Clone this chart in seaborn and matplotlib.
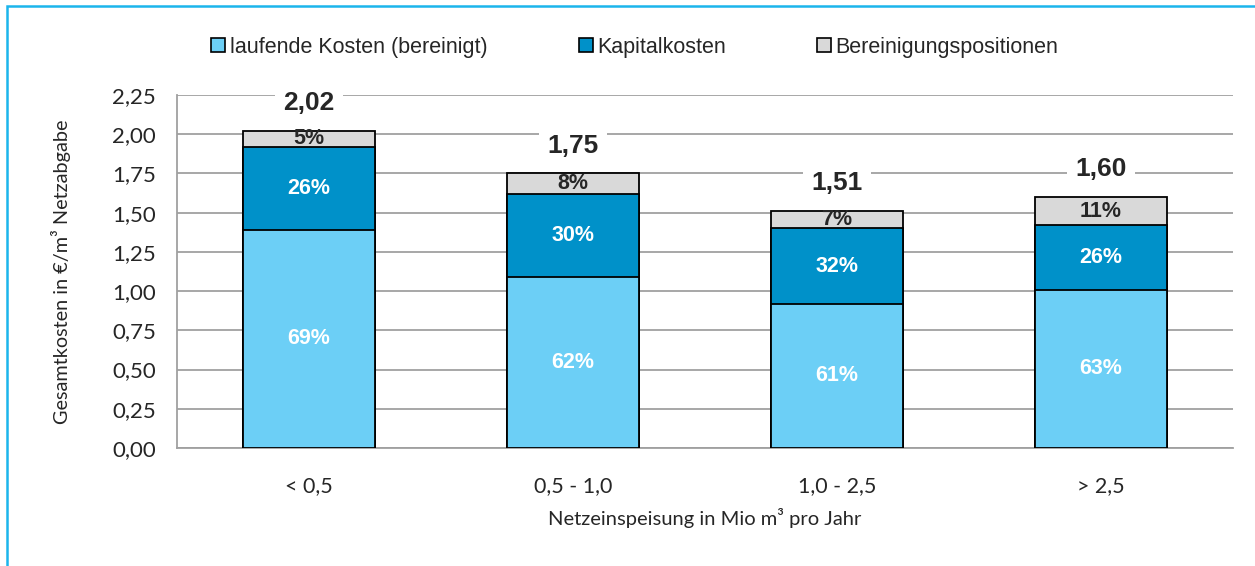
# Stacked bar chart: Gesamtkosten je Netzeinspeisungsklasse
import numpy as np
import matplotlib
matplotlib.use("Agg")
import matplotlib.pyplot as plt
from matplotlib.patches import Rectangle
import seaborn as sns

# data
categories = ["< 0,5", "0,5 - 1,0", "1,0 - 2,5", "> 2,5"]
laufend = [1.39, 1.09, 0.92, 1.01]
kapital = [0.53, 0.53, 0.48, 0.41]
bereinigung = [0.10, 0.13, 0.11, 0.18]
totals = [2.02, 1.75, 1.51, 1.60]
pct_laufend = ["69%", "62%", "61%", "63%"]
pct_kapital = ["26%", "30%", "32%", "26%"]
pct_bereinigung = ["5%", "8%", "7%", "11%"]
y_ticks = [0, 0.25, 0.5, 0.75, 1.0, 1.25, 1.5, 1.75, 2.0, 2.25]

c_light = "#6ccff6"
c_dark = "#0091c9"
c_gray = "#d9d9d9"

sns.set_style("white")
plt.rcParams["font.family"] = ["Lato", "DejaVu Sans"]

fig = plt.figure(figsize=(12.55, 5.66), dpi=100)
ax = fig.add_axes([177 / 1255, 118 / 566, 1056 / 1255, 353 / 566])

# cumulative levels, drawn tallest first so they stack
lvl1 = np.array(laufend)
lvl2 = lvl1 + np.array(kapital)
lvl3 = lvl2 + np.array(bereinigung)

sns.barplot(x=categories, y=lvl3, color=c_gray, width=0.5, edgecolor="black",
            linewidth=1.3, saturation=1, ax=ax, zorder=3)
sns.barplot(x=categories, y=lvl2, color=c_dark, width=0.5, edgecolor="black",
            linewidth=1.3, saturation=1, ax=ax, zorder=3)
sns.barplot(x=categories, y=lvl1, color=c_light, width=0.5, edgecolor="black",
            linewidth=1.3, saturation=1, ax=ax, zorder=3)

lab = dict(family=["Liberation Sans", "DejaVu Sans"], fontweight="bold",
           ha="center", va="center", zorder=5)
for i in range(len(categories)):
    ax.text(i, lvl1[i] / 2, pct_laufend[i], color="white", fontsize=15.5, **lab)
    ax.text(i, (lvl1[i] + lvl2[i]) / 2, pct_kapital[i], color="white", fontsize=15.5, **lab)
    ax.text(i, (lvl2[i] + lvl3[i]) / 2, pct_bereinigung[i], color="#262626", fontsize=15.5, **lab)
    ax.annotate(f"{totals[i]:.2f}".replace(".", ","), (i, lvl3[i]), xytext=(0, 20),
                textcoords="offset points", fontsize=19, color="#262626",
                bbox=dict(boxstyle="square,pad=0.3", fc="white", ec="none"), **lab)

ax.set_xlim(-0.5, 3.5)
ax.set_ylim(0, 2.25)
ax.set_yticks(y_ticks)
ax.set_yticklabels([f"{v:.2f}".replace(".", ",") for v in y_ticks])
ax.yaxis.grid(True, color="#a0a0a0", linewidth=1.3, zorder=0)
ax.set_axisbelow(True)
for s in ["top", "right"]:
    ax.spines[s].set_visible(False)
for s in ["left", "bottom"]:
    ax.spines[s].set_color("#a0a0a0")
    ax.spines[s].set_linewidth(1.3)

# ticks between categories on x, outward on y
ax.set_xticks(np.arange(len(categories)))
ax.set_xticklabels(categories)
ax.set_xticks([-0.5, 0.5, 1.5, 2.5, 3.5], minor=True)
ax.tick_params(axis="x", which="major", length=0, labelsize=15.5, pad=20, colors="#262626")
ax.tick_params(axis="x", which="minor", length=6, width=1.3, color="#a0a0a0")
ax.tick_params(axis="y", length=7, width=1.3, color="#a0a0a0", labelsize=16,
               pad=8, labelcolor="#262626")

ax.set_xlabel("Netzeinspeisung in Mio m³ pro Jahr", fontsize=14.5, color="#262626", labelpad=9)
ax.set_ylabel("Gesamtkosten in €/m³ Netzabgabe", fontsize=14.3, color="#262626", labelpad=30)

handles = [Rectangle((0, 0), 1, 1, fc=c, ec="black", lw=1.2) for c in (c_light, c_dark, c_gray)]
fig.legend(handles, ["laufende Kosten (bereinigt)", "Kapitalkosten", "Bereinigungspositionen"],
           loc="center", bbox_to_anchor=(635 / 1255, 1 - 47 / 566), ncol=3, frameon=False,
           handlelength=0.65, handleheight=0.65, handletextpad=0.2, columnspacing=4.25,
           prop={"family": "Liberation Sans", "size": 15.5})

# light blue frame around the figure (open at right/bottom as in the source crop)
fig.add_artist(Rectangle((7 / 1255, -0.1), 1.2, 1 - 6 / 566 + 0.1, transform=fig.transFigure,
                         fill=False, ec="#1cb5ec", lw=1.8))

fig.savefig("out.png", dpi=100)
